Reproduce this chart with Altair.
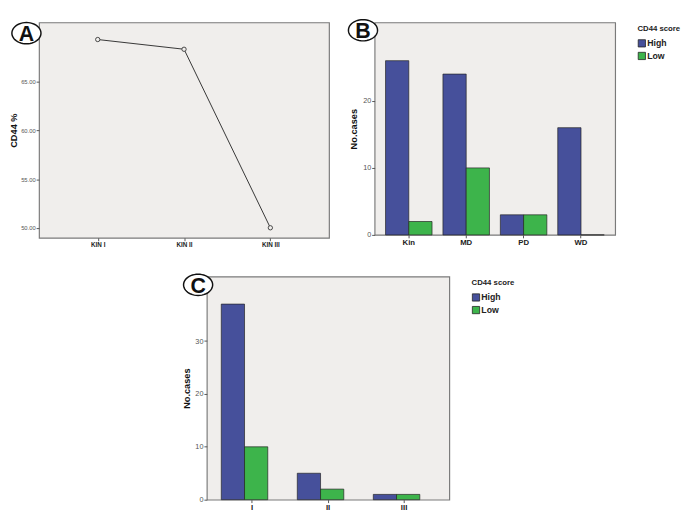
import math
import altair as alt
import pandas as pd

# ---- data ----
kin_groups = ["KIN I", "KIN II", "KIN III"]
cd44_pct = [69.35, 68.35, 50.0]

diff_groups = ["Kin", "MD", "PD", "WD"]
diff_high = [26, 24, 3, 16]
diff_low = [2, 10, 3, 0]

stage_groups = ["I", "II", "III"]
stage_high = [37, 5, 1]
stage_low = [10, 2, 1]

score_levels = ["High", "Low"]
score_colors = ["#46509B", "#3DB44B"]

FONT = "Liberation Sans Narrow, Liberation Sans, Arial, sans-serif"
LFONT = "Liberation Sans, Arial, sans-serif"
BG = "#F0EEEC"

# ellipse outline as a polygon path (unit coords, 30x22 at size 900)
_pts = [(math.cos(2 * math.pi * k / 48), 0.73 * math.sin(2 * math.pi * k / 48)) for k in range(48)]
ELLIPSE = "M " + " L ".join(f"{px:.4f} {py:.4f}" for px, py in _pts) + " Z"


def letter(ch, dx, dy):
    base = alt.Chart(pd.DataFrame({"t": [ch]}))
    ring = base.mark_point(shape=ELLIPSE, size=900, filled=True, fill="white",
                           stroke="#111", strokeWidth=1.5, opacity=1).encode(
        x=alt.value(dx), y=alt.value(dy))
    txt = base.mark_text(fontSize=22, fontWeight="bold", font=LFONT, color="#111",
                         baseline="middle", align="center").encode(
        x=alt.value(dx), y=alt.value(dy + 1), text="t:N")
    return [ring, txt]


xlab = dict(labelFontWeight="bold", labelColor="#222", labelAngle=0, title=None,
            labelPadding=1)

# ---- Panel A ----
dfA = pd.DataFrame({"grade": kin_groups, "pct": cd44_pct})
xA = alt.X("grade:N", sort=kin_groups, scale=alt.Scale(type="point", padding=0.68),
           axis=alt.Axis(labelFontSize=6.5, **xlab))
yA = alt.Y("pct:Q", scale=alt.Scale(domain=[48.97, 71.1], nice=False, zero=False),
           axis=alt.Axis(values=[50, 55, 60, 65, 70], format=".2f", title="CD44 %",
                         labelFontSize=6, titlePadding=2))
lineA = alt.Chart(dfA).mark_line(color="#333", strokeWidth=1).encode(x=xA, y=yA)
ptsA = alt.Chart(dfA).mark_point(shape="circle", size=20, filled=True, fill=BG,
                                 stroke="#333", strokeWidth=0.9, opacity=1).encode(x=xA, y=yA)
panelA = alt.layer(lineA, ptsA, *letter("A", -13, 11)).properties(width=299, height=222)


# ---- grouped bar panels ----
def bars(groups, high, low, ymax, yvals, w, h, ch, cdx, cdy, name):
    df = pd.DataFrame({name: groups * 2,
                       "score": ["High"] * len(groups) + ["Low"] * len(groups),
                       "n": high + low})
    b = alt.Chart(df).mark_bar(stroke="#222", strokeWidth=0.7).encode(
        x=alt.X(f"{name}:N", sort=groups,
                scale=alt.Scale(paddingInner=0.19, paddingOuter=0.19),
                axis=alt.Axis(labelFontSize=8, **xlab)),
        xOffset=alt.XOffset("score:N", sort=score_levels),
        y=alt.Y("n:Q", scale=alt.Scale(domain=[0, ymax], nice=False),
                axis=alt.Axis(values=yvals, title="No.cases", labelFontSize=7.5)),
        color=alt.Color("score:N", sort=score_levels,
                        scale=alt.Scale(domain=score_levels, range=score_colors),
                        legend=alt.Legend(title="CD44 score", orient="right",
                                          offset=20, padding=3)),
    )
    return alt.layer(b, *letter(ch, cdx, cdy)).properties(width=w, height=h)


panelB = bars(diff_groups, diff_high, diff_low, 31.7, [0, 10, 20], 248, 219,
              "B", -12, 8, "diff")
panelC = bars(stage_groups, stage_high, stage_low, 42.2, [0, 10, 20, 30], 250, 230,
              "C", -9, 8.5, "stage")

spacer = alt.Chart(pd.DataFrame({"s": [0]})).mark_point(opacity=0, size=1).encode(
    x=alt.value(1), y=alt.value(1)).properties(
    width=144, height=10, view=alt.ViewBackground(stroke="transparent", fill="transparent"))

row1 = alt.hconcat(panelA, panelB, spacing=15).resolve_scale(color="independent") \
    .resolve_legend(color="independent")
row2 = alt.hconcat(spacer, panelC, spacing=0).resolve_scale(color="independent") \
    .resolve_legend(color="independent")

chart = alt.vconcat(row1, row2, spacing=21).resolve_scale(color="independent") \
    .resolve_legend(color="independent").properties(
    padding={"left": 0, "top": 0, "right": 0, "bottom": 0}
).configure_view(
    fill=BG, stroke="#7a7a7a", strokeWidth=1.2
).configure_axis(
    labelFont=FONT, labelColor="#555", tickColor="#555", tickSize=3, domain=False,
    grid=False, titleFont=LFONT, titleFontWeight="bold", titleFontSize=9.5,
    titleColor="#111", titlePadding=4, labelPadding=1
).configure_legend(
    titleFont=FONT, titleFontSize=8, titleFontWeight="bold", titleColor="#222",
    titlePadding=6, labelFont=FONT, labelFontSize=9, labelFontWeight="bold",
    labelColor="#222", symbolType="square", symbolSize=56, symbolStrokeColor="#222",
    symbolStrokeWidth=0.8, labelOffset=1, rowPadding=2
)

chart.save("out.html", embed_options={"renderer": "svg", "actions": False})
